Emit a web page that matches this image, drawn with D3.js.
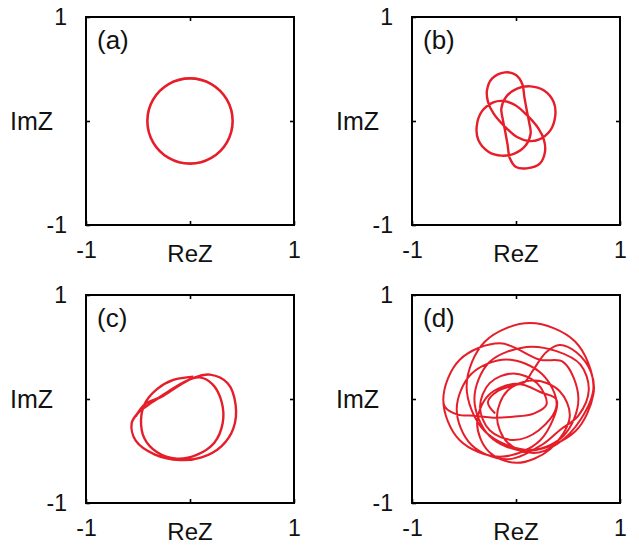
<!DOCTYPE html>
<html>
<head>
<meta charset="utf-8">
<script src="https://cdn.jsdelivr.net/npm/d3@7"></script>
<title>ImZ vs ReZ</title>
<style>
body { margin: 0; background: #fff; }
text { font-family: "Liberation Sans", Arial, sans-serif; fill: #111; }
</style>
</head>
<body>
<div id="viz"></div>
<script>
// panel tags, ticks, axis titles
var panelNames = ["(a)", "(b)", "(c)", "(d)"];
var axisTicks = [-1, 0, 1];
var tickNames = ["-1", "", "1"];
var xLabel = "ReZ", yLabel = "ImZ";

// trajectories, [ReZ, ImZ]
var orbitA = [[0.41,0],[0.355,0.205],[0.205,0.355],[0,0.41],[-0.205,0.355],[-0.355,0.205],
  [-0.41,0],[-0.355,-0.205],[-0.205,-0.355],[0,-0.41],[0.205,-0.355],[0.355,-0.205]];

var orbitB = [[-0.106,0.468],[0.000,0.442],[0.061,0.353],[0.080,0.234],[0.103,0.106],[0.128,-0.022],
  [0.141,-0.119],[0.096,-0.231],[-0.010,-0.311],[-0.138,-0.333],[-0.266,-0.295],[-0.362,-0.183],
  [-0.378,-0.054],[-0.330,0.090],[-0.218,0.179],[-0.122,0.192],[-0.010,0.154],[0.103,0.058],
  [0.215,-0.071],[0.269,-0.183],[0.279,-0.295],[0.231,-0.407],[0.103,-0.455],[0.000,-0.442],
  [-0.061,-0.353],[-0.080,-0.234],[-0.103,-0.106],[-0.128,0.022],[-0.141,0.119],[-0.096,0.231],
  [0.010,0.311],[0.138,0.333],[0.266,0.295],[0.362,0.183],[0.378,0.054],[0.330,-0.090],
  [0.218,-0.179],[0.122,-0.192],[0.010,-0.154],[-0.103,-0.058],[-0.215,0.071],[-0.269,0.183],
  [-0.279,0.295],[-0.231,0.407]];

var orbitC = [[0.032,0.215],[-0.160,0.183],[-0.320,0.093],[-0.433,-0.042],[-0.471,-0.202],
  [-0.439,-0.378],[-0.320,-0.510],[-0.128,-0.574],[0.064,-0.538],[0.234,-0.420],[0.314,-0.234],
  [0.304,-0.026],[0.215,0.144],[0.087,0.208],[-0.048,0.167],[-0.208,0.071],[-0.369,-0.035],
  [-0.497,-0.131],[-0.561,-0.234],[-0.522,-0.401],[-0.337,-0.535],[-0.096,-0.587],[0.112,-0.561],
  [0.304,-0.452],[0.417,-0.282],[0.439,-0.058],[0.362,0.151],[0.192,0.234],[0.032,0.202],
  [-0.112,0.125],[-0.272,0.023],[-0.433,-0.050],[-0.522,-0.167]];

var orbitD = [[-0.20,-0.14],[-0.27,-0.03],[-0.17,0.08],[-0.02,0.13],[0.08,0.16],[0.16,0.27],
  [0.29,0.45],[0.42,0.52],[0.58,0.45],[0.72,0.26],[0.745,0.05],[0.568,-0.313],[0.135,-0.49],
  [-0.298,-0.313],[-0.475,0.12],[-0.298,0.553],[0.135,0.73],[0.568,0.553],[0.745,0.12],
  [0.62,-0.2],[0.40,-0.43],[0.167,-0.52],[-0.082,-0.419],[-0.183,-0.17],[-0.082,0.079],
  [0.167,0.18],[0.416,0.079],[0.517,-0.17],[0.33,-0.48],[0.006,-0.614],[-0.264,-0.504],
  [-0.374,-0.234],[-0.264,0.036],[0.006,0.146],[0.25,0.06],[0.391,-0.01],[0.233,-0.397],
  [-0.154,-0.555],[-0.541,-0.397],[-0.699,-0.01],[-0.541,0.377],[-0.154,0.535],[0.233,0.377],
  [0.455,0.355],[0.6,0.0],[0.455,-0.355],[0.1,-0.5],[-0.255,-0.355],[-0.4,0.0],[-0.255,0.355],
  [0.1,0.5],[0.39,0.46],[0.62,0.33],[0.70,0.09],[0.60,-0.16],[0.42,-0.30],[0.25,-0.44],
  [-0.09,-0.58],[-0.43,-0.44],[-0.57,-0.10],[-0.43,0.24],[-0.09,0.38],[0.25,0.24],[0.39,-0.06],
  [0.22,-0.30],[-0.026,-0.394],[-0.253,-0.301],[-0.346,-0.074],[-0.253,0.153],[-0.026,0.246],
  [0.201,0.153],[0.294,-0.05],[0.17,-0.14],[-0.03,-0.17],[-0.22,-0.18],[-0.40,-0.16],
  [-0.56,-0.15],[-0.68,-0.08],[-0.70,0.0]];

var orbits = [orbitA, orbitB, orbitC, orbitD];
var loopShut = [true, true, false, false];
var lineW = [2.6, 2.4, 2.4, 2.0];

var size = 208;
var origins = [[86,17],[412,17],[86,295],[412,295]];
var red = "#e61e2a";

var svg = d3.select("#viz").append("svg")
    .attr("width", 639).attr("height", 546);

var x = d3.scaleLinear().domain([-1, 1]).range([0, size]);
var y = d3.scaleLinear().domain([-1, 1]).range([size, 0]);
var fmt = function(d){ return tickNames[axisTicks.indexOf(d)]; };

function styleAxis(sel, fs){
    sel.select(".domain").remove();
    sel.selectAll("line").attr("stroke", "#000").attr("stroke-width", 1.6);
    sel.attr("font-size", fs).attr("font-family", "'Liberation Sans', Arial, sans-serif");
    sel.selectAll("text").attr("fill", "#111");
}

orbits.forEach(function(pts, i){
    var g = svg.append("g").attr("transform", "translate(" + origins[i] + ")");

    g.append("g").attr("transform", "translate(0," + size + ")")
        .call(d3.axisBottom(x).tickValues(axisTicks).tickSize(-4).tickPadding(17).tickFormat(fmt))
        .call(styleAxis, 23);
    g.append("g")
        .call(d3.axisLeft(y).tickValues(axisTicks).tickSize(-4).tickPadding(19).tickFormat(fmt))
        .call(styleAxis, 23);
    g.append("g")
        .call(d3.axisTop(x).tickValues([0]).tickSize(-4).tickFormat(""))
        .call(styleAxis, 23);
    g.append("g").attr("transform", "translate(" + size + ",0)")
        .call(d3.axisRight(y).tickValues([0]).tickSize(-4).tickFormat(""))
        .call(styleAxis, 23);

    g.append("rect").attr("width", size).attr("height", size)
        .attr("fill", "none").attr("stroke", "#000").attr("stroke-width", 2);

    var line = d3.line()
        .x(function(d){ return x(d[0]); })
        .y(function(d){ return y(d[1]); })
        .curve(loopShut[i] ? d3.curveCatmullRomClosed : d3.curveCatmullRom);
    g.append("path").datum(pts)
        .attr("d", line)
        .attr("fill", "none")
        .attr("stroke", red)
        .attr("stroke-width", lineW[i])
        .attr("stroke-linejoin", "round");

    g.append("text").attr("x", 11).attr("y", 32)
        .attr("font-size", 26).text(panelNames[i]);
    g.append("text").attr("x", size / 2).attr("y", size + 37)
        .attr("text-anchor", "middle").attr("font-size", 24).text(xLabel);
    g.append("text").attr("x", -33).attr("y", size / 2 + 9)
        .attr("text-anchor", "end").attr("font-size", 25).text(yLabel);
});
</script>
</body>
</html>
